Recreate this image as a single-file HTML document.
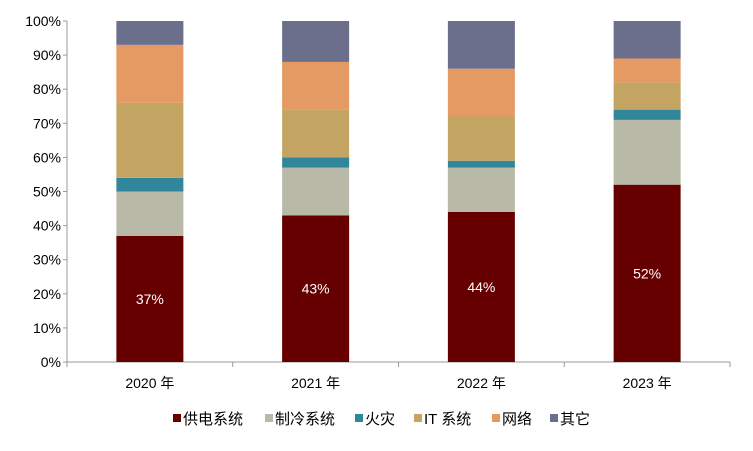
<!DOCTYPE html>
<html><head><meta charset="utf-8"><style>
body{margin:0;background:#fff;}
svg text{font-family:"Liberation Sans","Noto Sans CJK SC",sans-serif;}
</style></head><body>
<svg id="c" width="753" height="446"></svg>
<script>
const categories=["2020 年","2021 年","2022 年","2023 年"];
const seriesNames=["供电系统","制冷系统","火灾","IT 系统","网络","其它"];
const seriesColors=["#660000","#B9B9A8","#31869B","#C4A462","#E49A62","#6B6F8C"];
const power=[37,43,44,52];
const cooling=[13,14,13,19];
const fire=[4,3,2,3];
const it=[22,14,13,8];
const network=[17,14,14,7];
const other=[7,12,14,11];
const labels=["37%","43%","44%","52%"];
const yTicks=[0,10,20,30,40,50,60,70,80,90,100];
const series=[power,cooling,fire,it,network,other];
const NS="http://www.w3.org/2000/svg";
const svg=document.getElementById("c");
const X0=67,X1=730,Y0=362,Y1=21;
const y=v=>Y0-(v/100)*(Y0-Y1);
const bw=(X1-X0)/categories.length;
const xc=i=>X0+bw*(i+0.5);
function mk(t,a,p){const e=document.createElementNS(NS,t);for(const k in a)e.setAttribute(k,a[k]);(p||svg).appendChild(e);return e;}
let ax=mk("line",{x1:X0,y1:Y1,x2:X0,y2:Y0,stroke:"#999"});


yTicks.forEach(t=>{
  mk("line",{x1:X0-4,y1:y(t),x2:X0,y2:y(t),stroke:"#999"});
  const tx=mk("text",{x:X0-6,y:y(t)+5,"text-anchor":"end","font-size":"14",fill:"#000"});
  tx.textContent=t+"%";
  
  
});
let xa=mk("line",{x1:X0,y1:Y0,x2:X1,y2:Y0,stroke:"#999"});


for(let i=0;i<=categories.length;i++)mk("line",{x1:X0+bw*i,y1:Y0,x2:X0+bw*i,y2:Y0+5,stroke:"#999"});
categories.forEach((c,i)=>{
  const t=mk("text",{x:xc(i),y:388,"text-anchor":"middle","font-size":"14",fill:"#000"});
  t.textContent=c;
  
  
  let acc=0;
  series.forEach((s,k)=>{
    const r=mk("rect",{x:xc(i)-33.5,y:y(acc+s[i]),width:67,height:y(acc)-y(acc+s[i]),fill:seriesColors[k]});
    
    
    acc+=s[i];
  });
  const l=mk("text",{x:xc(i),y:y(power[i]/2)+5,"text-anchor":"middle","font-size":"14",fill:"#fff"});
  l.textContent=labels[i];
  
  
});
const lx=[173,265,355,414,492,550];
seriesNames.forEach((n,k)=>{
  const g=mk("g",{});
  
  
  mk("rect",{x:lx[k],y:414,width:8,height:8,fill:seriesColors[k]},g);
  const t=mk("text",{x:lx[k]+10,y:424,"font-size":"15",fill:"#000"},g);
  t.textContent=n;
});
</script>
</body></html>
